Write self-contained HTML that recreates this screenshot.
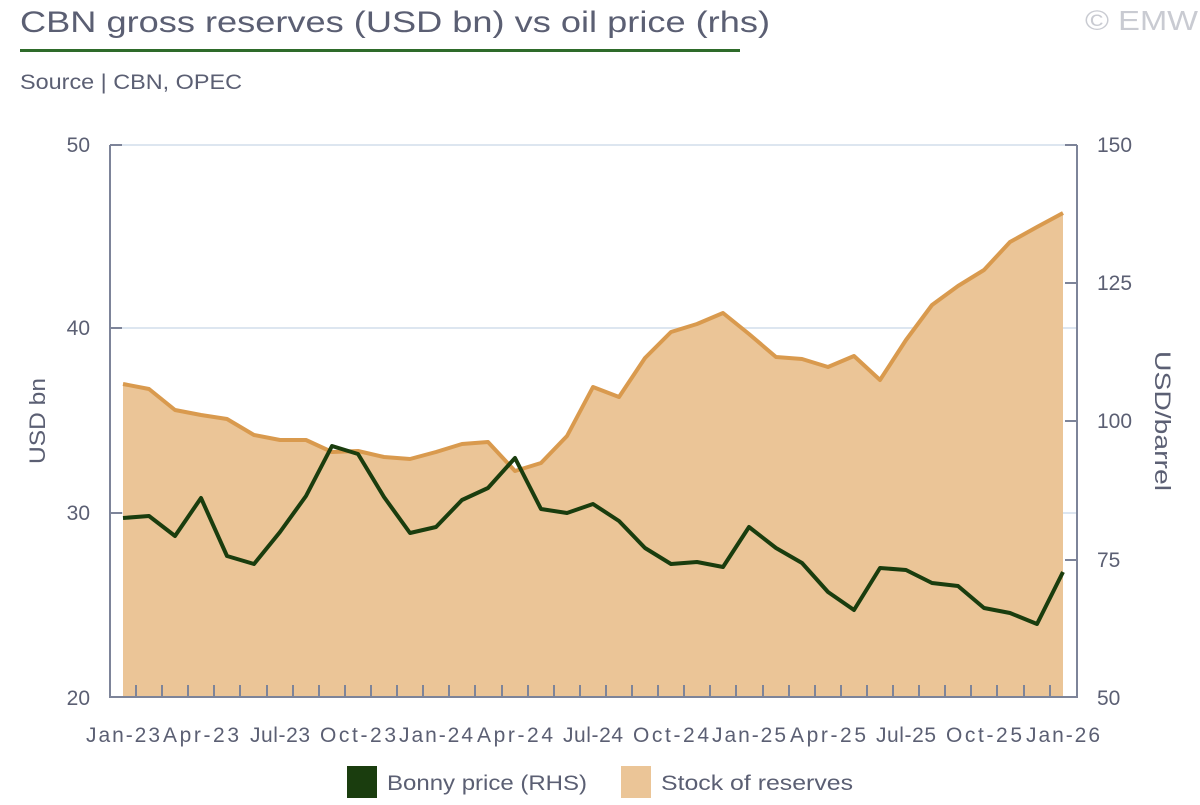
<!DOCTYPE html>
<html><head><meta charset="utf-8"><style>
body{margin:0;background:#fff;}
svg text{font-family:"Liberation Sans",sans-serif;}
</style></head><body>
<svg width="1200" height="800" viewBox="0 0 1200 800" xmlns="http://www.w3.org/2000/svg">
<text x="20" y="32" font-size="30" fill="#5b5f73" textLength="750" lengthAdjust="spacingAndGlyphs">CBN gross reserves (USD bn) vs oil price (rhs)</text>
<rect x="20" y="49" width="720" height="3" fill="#2e6b2a"/>
<text x="1085" y="30" font-size="28" fill="#c9cbd2" textLength="113" lengthAdjust="spacingAndGlyphs">© EMW</text>
<text x="20" y="89" font-size="21" fill="#5b5f73" textLength="222" lengthAdjust="spacingAndGlyphs">Source | CBN, OPEC</text>
<g stroke="#dde6f0" stroke-width="2">
<line x1="110" y1="145" x2="1077" y2="145"/><line x1="110" y1="328" x2="1077" y2="328"/><line x1="110" y1="513" x2="1077" y2="513"/>
</g>
<polygon fill="#ebc597" points="123,697 123,384 149,389 175,410 201,415 227,419 254,435 280,440 306,440 332,452 358,451 384,457 410,459 436,452 462,444 488,442 515,471 541,463 567,436 593,387 619,397 645,358 671,332 697,324 723,313 749,334 776,357 802,359 828,367 854,356 880,380 906,340 932,305 958,286 984,270 1010,242 1037,227 1063,213 1063,697"/>
<polyline fill="none" stroke="#d99a4e" stroke-width="4" stroke-linejoin="round" points="123,384 149,389 175,410 201,415 227,419 254,435 280,440 306,440 332,452 358,451 384,457 410,459 436,452 462,444 488,442 515,471 541,463 567,436 593,387 619,397 645,358 671,332 697,324 723,313 749,334 776,357 802,359 828,367 854,356 880,380 906,340 932,305 958,286 984,270 1010,242 1037,227 1063,213"/>
<polyline fill="none" stroke="#1a3d0e" stroke-width="4" stroke-linejoin="round" points="123,518 149,516 175,536 201,498 227,556 254,564 280,532 306,496 332,446 358,454 384,497 410,533 436,527 462,500 488,488 515,458 541,509 567,513 593,504 619,521 645,548 671,564 697,562 723,567 749,527 776,548 802,563 828,592 854,610 880,568 906,570 932,583 958,586 984,608 1010,613 1037,624 1063,572"/>
<g stroke="#7d8499" stroke-width="2" fill="none">
<polyline points="110,145 110,697 1077,697 1077,145"/>
<line x1="110" y1="145" x2="122" y2="145"/><line x1="110" y1="328" x2="122" y2="328"/><line x1="110" y1="513" x2="122" y2="513"/>
<line x1="1065" y1="145" x2="1077" y2="145"/><line x1="1065" y1="283" x2="1077" y2="283"/><line x1="1065" y1="421" x2="1077" y2="421"/><line x1="1065" y1="560" x2="1077" y2="560"/>
<path d="M136 697v-12M162 697v-12M188 697v-12M214 697v-12M240 697v-12M267 697v-12M293 697v-12M319 697v-12M345 697v-12M371 697v-12M397 697v-12M423 697v-12M449 697v-12M475 697v-12M502 697v-12M528 697v-12M554 697v-12M580 697v-12M606 697v-12M632 697v-12M658 697v-12M684 697v-12M710 697v-12M736 697v-12M763 697v-12M789 697v-12M815 697v-12M841 697v-12M867 697v-12M893 697v-12M919 697v-12M945 697v-12M971 697v-12M997 697v-12M1024 697v-12M1050 697v-12"/>
</g>
<g font-size="21" fill="#5b5f73" text-anchor="end">
<text x="90" y="152">50</text><text x="90" y="335">40</text><text x="90" y="520">30</text><text x="90" y="705">20</text>
</g>
<g font-size="21" fill="#5b5f73">
<text x="1097" y="152">150</text><text x="1097" y="290">125</text><text x="1097" y="428">100</text><text x="1097" y="567">75</text><text x="1097" y="705">50</text>
</g>
<text transform="translate(45,421) rotate(-90)" font-size="22" fill="#5b5f73" text-anchor="middle" textLength="86" lengthAdjust="spacingAndGlyphs">USD bn</text>
<text transform="translate(1155,421) rotate(90)" font-size="22" fill="#5b5f73" text-anchor="middle" textLength="140" lengthAdjust="spacingAndGlyphs">USD/barrel</text>
<g font-size="21" fill="#5b5f73" text-anchor="middle" lengthAdjust="spacingAndGlyphs">
<text x="123" y="742" textLength="74">Jan-23</text><text x="201" y="742" textLength="76">Apr-23</text><text x="280" y="742" textLength="60">Jul-23</text><text x="358" y="742" textLength="76">Oct-23</text><text x="436" y="742" textLength="74">Jan-24</text><text x="515" y="742" textLength="76">Apr-24</text><text x="593" y="742" textLength="60">Jul-24</text><text x="671" y="742" textLength="76">Oct-24</text><text x="749" y="742" textLength="74">Jan-25</text><text x="828" y="742" textLength="76">Apr-25</text><text x="906" y="742" textLength="60">Jul-25</text><text x="984" y="742" textLength="76">Oct-25</text><text x="1063" y="742" textLength="74">Jan-26</text>
</g>
<rect x="347" y="766" width="30" height="32" fill="#1a3d0e"/>
<text x="387" y="790" font-size="21" fill="#5b5f73" textLength="200" lengthAdjust="spacingAndGlyphs">Bonny price (RHS)</text>
<rect x="621" y="766" width="30" height="32" fill="#ebc597"/>
<text x="661" y="790" font-size="21" fill="#5b5f73" textLength="192" lengthAdjust="spacingAndGlyphs">Stock of reserves</text>
</svg>
</body></html>
